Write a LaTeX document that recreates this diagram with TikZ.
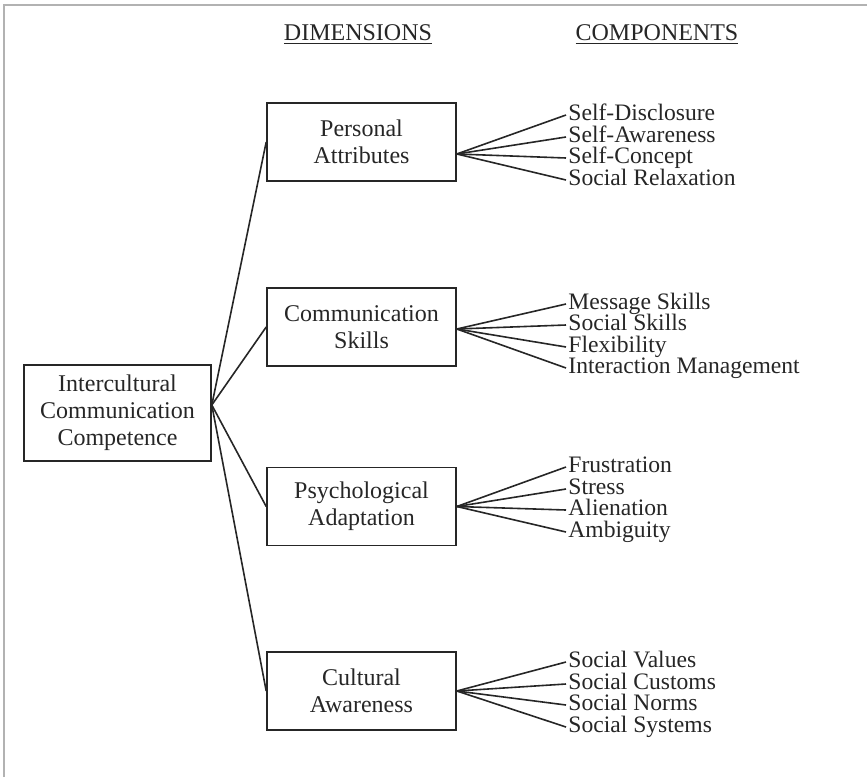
\documentclass[tikz,border=0pt]{standalone}
\usepackage{fontspec}
\setmainfont{Liberation Serif}
\usepackage{tikz}
\tikzset{
    box/.style={draw, line width=.8pt, minimum width=94.5pt, minimum height=39pt, inner sep=0pt, align=center, font=\fontsize{12}{13.5}\selectfont},
    comp/.style={anchor=west, inner xsep=1pt, inner ysep=0pt, text height=7.8pt, text depth=2.4pt, font=\fontsize{11.8}{13.5}\selectfont},
    head/.style={font=\fontsize{12}{13.5}\selectfont},
    link/.style={line width=.8pt, draw=black!85}
}

\begin{document}
\begin{tikzpicture}[x=.5pt, y=-.5pt, color=black!85]
    \useasboundingbox (0, 0) rectangle (867, 777);
    % frame
    \draw[black!30, line width=1.2pt](4, 777)--(4, 5)--(867, 5);
    % headings
    \node[head] (hdim) at (358, 35) {\underline{DIMENSIONS}};
    \node[head] (hcomp) at (657, 35) {\underline{COMPONENTS}};
    % main box
    \node[box, minimum width=93.5pt, minimum height=48pt] (icc) at (117.5, 413) {Intercultural\\Communication\\Competence};
    % dimensions
    \node[box] (pa) at (361.5, 142) {Personal\\Attributes};
    \node[box] (cs) at (361.5, 327) {Communication\\Skills};
    \node[box] (pad) at (361.5, 506.5) {Psychological\\Adaptation};
    \node[box] (ca) at (361.5, 691) {Cultural\\Awareness};
    \draw[link]([yshift=4pt]icc.east)--(pa.west);
    \draw[link]([yshift=4pt]icc.east)--(cs.west);
    \draw[link]([yshift=4pt]icc.east)--(pad.west);
    \draw[link]([yshift=4pt]icc.east)--(ca.west);
    % components
    \node[comp] (pa1) at (566, 115) {Self-Disclosure};
    \node[comp] (pa2) at (566, 137) {Self-Awareness};
    \node[comp] (pa3) at (566, 158) {Self-Concept};
    \node[comp] (pa4) at (566, 180) {Social Relaxation};
    \node[comp] (cs1) at (566, 304) {Message Skills};
    \node[comp] (cs2) at (566, 325) {Social Skills};
    \node[comp] (cs3) at (566, 347) {Flexibility};
    \node[comp] (cs4) at (566, 368) {Interaction Management};
    \node[comp] (pad1) at (566, 467) {Frustration};
    \node[comp] (pad2) at (566, 489) {Stress};
    \node[comp] (pad3) at (566, 510) {Alienation};
    \node[comp] (pad4) at (566, 532) {Ambiguity};
    \node[comp] (ca1) at (566, 662) {Social Values};
    \node[comp] (ca2) at (566, 684) {Social Customs};
    \node[comp] (ca3) at (566, 705) {Social Norms};
    \node[comp] (ca4) at (566, 727) {Social Systems};
    \foreach \d/\s in {pa/-6pt, cs/-1pt, pad/0pt, ca/0pt}
        \foreach \i in {1, ..., 4}
            \draw[link]([yshift=\s]\d.east)--(\d\i.west);
\end{tikzpicture}
\end{document}
